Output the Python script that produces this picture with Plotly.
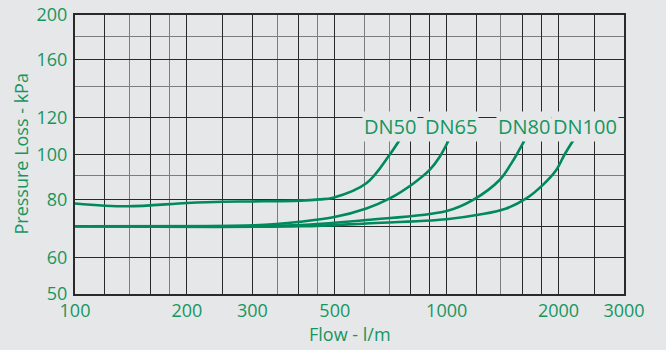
import math
import plotly.graph_objects as go

# ---- data ----
dn50_x = [100, 138, 200, 250, 300, 403, 455, 495, 608, 703, 752]
dn50_y = [78.4, 77.3, 78.6, 79.1, 79.2, 79.5, 80.0, 80.7, 86.7, 100, 108.4]

dn65_x = [100, 200, 300, 403, 495, 608, 703, 812, 900, 958, 1019]
dn65_y = [70, 70, 70.3, 71.6, 73.2, 76.5, 80.4, 86.5, 92.6, 98.9, 108.4]

dn80_x = [100, 300, 403, 608, 1000, 1178, 1388, 1493, 1631]
dn80_y = [70, 70.1, 70.4, 72.2, 75.5, 79.8, 88.1, 95.7, 108.4]

dn100_x = [100, 403, 608, 1000, 1227, 1447, 1638, 1815, 1972, 2076, 2209]
dn100_y = [70, 70, 71.0, 72.5, 74.2, 76.5, 80.4, 86.0, 92.6, 100, 108.4]

series_names = ["DN50", "DN65", "DN80", "DN100"]
label_x = [703, 1025, 1610, 2350]
label_y = [115, 115, 115, 115]

x_grid_dark = [100, 120, 160, 200, 250, 300, 400, 500, 800, 900, 1000, 1200, 1600, 1800, 2000, 2500, 3000]
x_grid_light = [140, 180, 350, 450, 600, 700, 1400]
x_tick_vals = [100, 200, 300, 500, 1000, 2000, 3000]

y_grid_dark = [50, 60, 70, 80, 100, 120, 160, 200]
y_grid_light = [90, 140, 180]
y_tick_vals = [50, 60, 80, 100, 120, 160, 200]

BG = "#e6e7e9"
LINE = "#00895a"
TXT = "#16965f"
DARK = "#2a2a2a"
LIGHT = "#7d7d7d"
FONT = "Open Sans"

fig = go.Figure()
for xs, ys, nm in zip([dn50_x, dn65_x, dn80_x, dn100_x],
                      [dn50_y, dn65_y, dn80_y, dn100_y], series_names):
    fig.add_trace(go.Scatter(x=xs, y=ys, mode="lines", name=nm,
                             line=dict(color=LINE, width=2.6, shape="spline", smoothing=1.0),
                             showlegend=False))

for nm, lx, ly in zip(series_names, label_x, label_y):
    fig.add_annotation(x=math.log10(lx), y=math.log10(ly),
                       text=nm, showarrow=False, bgcolor=BG, borderpad=1,
                       font=dict(family=FONT, size=20, color=TXT))

def xticktext(v):
    return str(v) if v in x_tick_vals else ""

def yticktext(v):
    return str(v) if v in y_tick_vals else ""

fig.update_xaxes(type="log", range=[2, math.log10(3000)], automargin=False,
                 tickmode="array", tickvals=x_grid_dark,
                 ticktext=[xticktext(v) for v in x_grid_dark],
                 showgrid=True, gridcolor=DARK, gridwidth=1.3,
                 minor=dict(tickmode="array", tickvals=x_grid_light, showgrid=True,
                            gridcolor=LIGHT, gridwidth=1.3, ticks=""),
                 showline=True, linecolor=DARK, linewidth=2, mirror=True,
                 ticks="", ticklabelstandoff=-1,
                 tickfont=dict(family=FONT, size=18, color=TXT),
                 zeroline=False)
fig.update_yaxes(type="log", range=[math.log10(50), math.log10(200)], automargin=False,
                 tickmode="array", tickvals=y_grid_dark,
                 ticktext=[yticktext(v) for v in y_grid_dark],
                 showgrid=True, gridcolor=DARK, gridwidth=1.3,
                 minor=dict(tickmode="array", tickvals=y_grid_light, showgrid=True,
                            gridcolor=LIGHT, gridwidth=1.3, ticks=""),
                 showline=True, linecolor=DARK, linewidth=2, mirror=True,
                 ticks="", ticklabelstandoff=2,
                 tickfont=dict(family=FONT, size=18, color=TXT),
                 zeroline=False)

fig.add_annotation(xref="paper", yref="paper", x=0.5, y=0, yshift=-40,
                   text="Flow - l/m", showarrow=False, xanchor="center", yanchor="middle",
                   font=dict(family=FONT, size=18, color=TXT))
fig.add_annotation(xref="paper", yref="paper", x=0, y=0.5, xshift=-55,
                   text="Pressure Loss - kPa", showarrow=False, textangle=-90,
                   xanchor="center", yanchor="middle",
                   font=dict(family=FONT, size=18, color=TXT))

fig.update_layout(width=666, height=350, margin=dict(l=75, r=42, t=15, b=56),
                  paper_bgcolor=BG, plot_bgcolor=BG)
fig.write_html("out.html", config={"displayModeBar": False},
               post_script="document.body.style.margin='0';document.body.style.background='%s';" % BG)
